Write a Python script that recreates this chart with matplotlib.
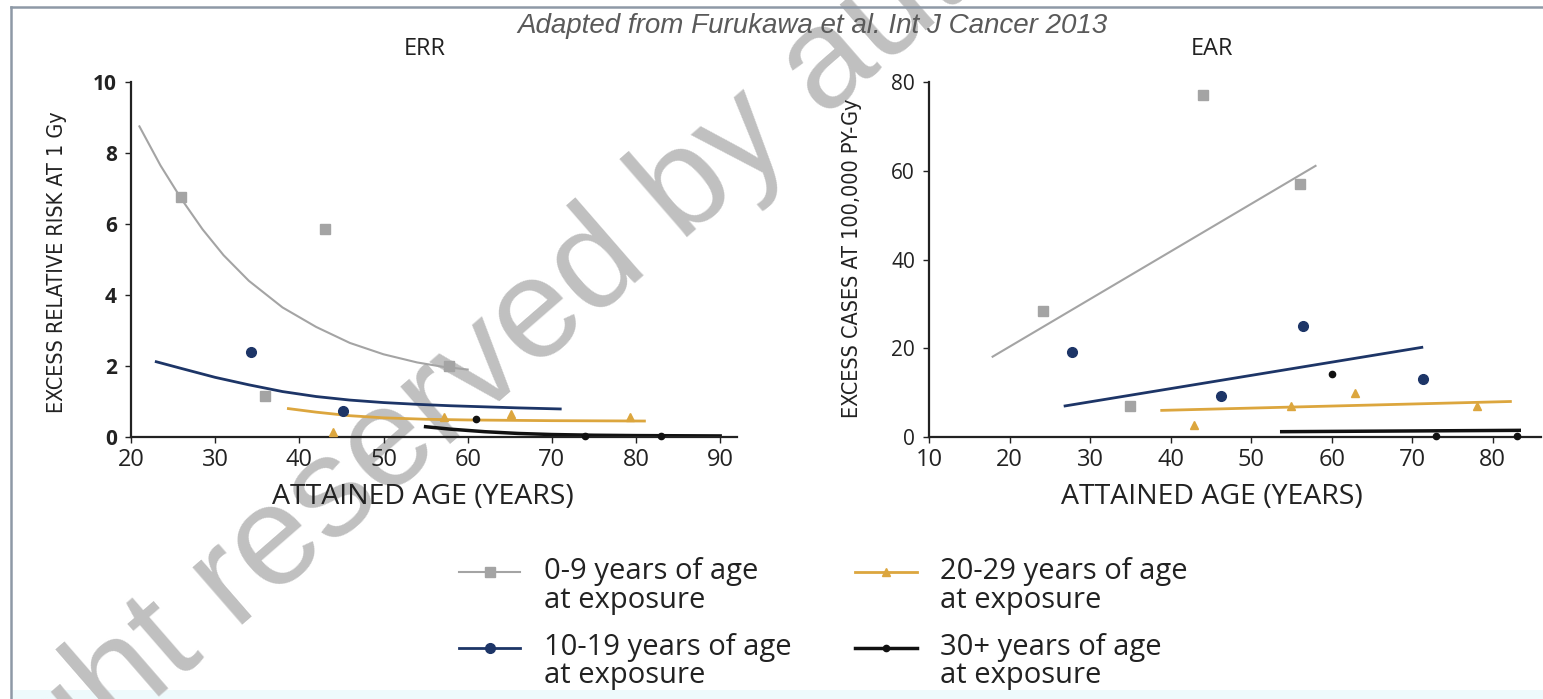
import matplotlib
matplotlib.use("Agg")
import matplotlib.pyplot as plt
from matplotlib.lines import Line2D
from matplotlib.patches import Rectangle
from matplotlib.legend_handler import HandlerLine2D

# ---- ERR panel (left) ----
err_gray_x = [26.0, 43.0, 35.9, 57.8]
err_gray_y = [6.77, 5.85, 1.15, 2.0]
err_gray_fit_x = [21, 23.5, 26, 28.5, 31, 34, 38, 42, 46, 50, 54, 57, 60]
err_gray_fit_y = [8.75, 7.65, 6.7, 5.85, 5.12, 4.4, 3.65, 3.1, 2.65, 2.33, 2.1, 1.98, 1.9]

err_blue_x = [34.2, 45.2]
err_blue_y = [2.4, 0.72]
err_blue_fit_x = [23, 26, 30, 34, 38, 42, 46, 50, 54, 58, 62, 66, 71]
err_blue_fit_y = [2.12, 1.93, 1.68, 1.47, 1.28, 1.14, 1.04, 0.97, 0.92, 0.88, 0.85, 0.82, 0.79]

err_orange_x = [44.0, 57.2, 65.2, 79.3]
err_orange_y = [0.15, 0.57, 0.65, 0.55]
err_orange_fit_x = [38.7, 42, 46, 50, 55, 60, 70, 81]
err_orange_fit_y = [0.80, 0.70, 0.60, 0.54, 0.50, 0.48, 0.46, 0.45]

err_black_x = [61.0, 74.0, 83.0]
err_black_y = [0.5, 0.03, 0.03]
err_black_fit_x = [55, 58, 62, 66, 70, 75, 80, 90]
err_black_fit_y = [0.29, 0.22, 0.15, 0.10, 0.07, 0.05, 0.04, 0.03]

# ---- EAR panel (right) ----
ear_gray_x = [44.0, 56.1, 24.1, 35.0]
ear_gray_y = [77.0, 57.1, 28.3, 7.0]
ear_gray_fit_x = [17.9, 58.0]
ear_gray_fit_y = [18.1, 61.1]

ear_blue_x = [27.7, 56.4, 46.3, 71.4]
ear_blue_y = [19.1, 25.1, 9.2, 13.1]
ear_blue_fit_x = [26.9, 71.2]
ear_blue_fit_y = [7.0, 20.2]

ear_orange_x = [42.9, 54.9, 62.9, 78.0]
ear_orange_y = [2.8, 7.0, 9.9, 7.0]
ear_orange_fit_x = [38.9, 82.2]
ear_orange_fit_y = [6.0, 8.0]

ear_black_x = [60.0, 73.0, 83.0]
ear_black_y = [14.2, 0.15, 0.15]
ear_black_fit_x = [53.8, 83.3]
ear_black_fit_y = [1.2, 1.5]

groups = ["0-9 years of age\nat exposure", "10-19 years of age\nat exposure",
          "20-29 years of age\nat exposure", "30+ years of age\nat exposure"]

GRAY, BLUE, ORANGE, BLACK = "#a4a4a4", "#1d3567", "#dca63e", "#111111"
styles = [
    dict(color=GRAY, marker="s", ms=6.5, lw=1.5),
    dict(color=BLUE, marker="o", ms=7, lw=2.0),
    dict(color=ORANGE, marker="^", ms=6, lw=2.0),
    dict(color=BLACK, marker="o", ms=4.5, lw=2.5),
]

W, H = 1543, 699
fig = plt.figure(figsize=(W / 100, H / 100), dpi=100)
fig.patch.set_facecolor("white")

SANS = ["Open Sans", "DejaVu Sans"]


def px_box(x0, x1, ytop, ybot):
    return [x0 / W, 1 - ybot / H, (x1 - x0) / W, (ybot - ytop) / H]


ax1 = fig.add_axes(px_box(131, 737, 82, 437))
ax2 = fig.add_axes(px_box(929, 1541, 82, 437))

panels = [
    (ax1, [(err_gray_x, err_gray_y, err_gray_fit_x, err_gray_fit_y),
           (err_blue_x, err_blue_y, err_blue_fit_x, err_blue_fit_y),
           (err_orange_x, err_orange_y, err_orange_fit_x, err_orange_fit_y),
           (err_black_x, err_black_y, err_black_fit_x, err_black_fit_y)]),
    (ax2, [(ear_gray_x, ear_gray_y, ear_gray_fit_x, ear_gray_fit_y),
           (ear_blue_x, ear_blue_y, ear_blue_fit_x, ear_blue_fit_y),
           (ear_orange_x, ear_orange_y, ear_orange_fit_x, ear_orange_fit_y),
           (ear_black_x, ear_black_y, ear_black_fit_x, ear_black_fit_y)]),
]

for ax, series in panels:
    ax.set_facecolor("none")
    for (px, py, fx, fy), st in zip(series, styles):
        ax.plot(fx, fy, color=st["color"], lw=st["lw"], zorder=2, clip_on=False)
        ax.plot(px, py, linestyle="none", marker=st["marker"], ms=st["ms"],
                color=st["color"], zorder=3, clip_on=False)
    for s in ["top", "right"]:
        ax.spines[s].set_visible(False)
    for s in ["left", "bottom"]:
        ax.spines[s].set_linewidth(1.6)
        ax.spines[s].set_color("#222222")
    ax.tick_params(direction="out", length=4, width=1, colors="#222222")

ax1.set_xlim(20, 92)
ax1.set_ylim(0, 10)
ax1.set_xticks(range(20, 91, 10))
ax1.set_yticks(range(0, 11, 2))
ax2.set_xlim(10, 86)
ax2.set_ylim(0, 80)
ax2.set_xticks(range(10, 81, 10))
ax2.set_yticks(range(0, 81, 20))

for ax, ybold in [(ax1, "bold"), (ax2, "normal")]:
    for lab in ax.get_xticklabels():
        lab.set_family(SANS)
        lab.set_fontsize(17)
        lab.set_color("#222222")
    for lab in ax.get_yticklabels():
        lab.set_family(SANS)
        lab.set_fontsize(15)
        lab.set_fontweight(ybold)
        lab.set_color("#222222")
    ax.tick_params(axis="y", pad=6)
    ax.tick_params(axis="x", pad=4)

# titles, axis labels
ax1.text((425 - 131) / 606, (437 - 49) / 355, "ERR", transform=ax1.transAxes,
         ha="center", va="center", fontsize=17, family=SANS, color="#222222")
ax2.text((1212 - 929) / 612, (437 - 49) / 355, "EAR", transform=ax2.transAxes,
         ha="center", va="center", fontsize=17, family=SANS, color="#222222")

ax1.text((423 - 131) / 606, (437 - 497) / 355, "ATTAINED AGE (YEARS)",
         transform=ax1.transAxes, ha="center", va="center", fontsize=20.5,
         family=SANS, color="#222222")
ax2.text((1212 - 929) / 612, (437 - 497) / 355, "ATTAINED AGE (YEARS)",
         transform=ax2.transAxes, ha="center", va="center", fontsize=20.5,
         family=SANS, color="#222222")

ax1.text((57 - 131) / 606, (437 - 262) / 355, "EXCESS RELATIVE RISK AT 1 Gy",
         transform=ax1.transAxes, ha="center", va="center", rotation=90,
         fontsize=15.5, family="DejaVu Sans", fontstretch="condensed",
         color="#222222")
ax2.text((852 - 929) / 612, (437 - 258) / 355, "EXCESS CASES AT 100,000 PY-Gy",
         transform=ax2.transAxes, ha="center", va="center", rotation=90,
         fontsize=15.5, family="DejaVu Sans", fontstretch="condensed",
         color="#222222")

# source note
fig.text(812 / W, 1 - 26 / H, "Adapted from Furukawa et al. Int J Cancer 2013",
         ha="center", va="center", fontsize=20, style="italic",
         family=["Liberation Sans", "DejaVu Sans"], color="#5a5a5a")


# legend: handle sits level with the first line of each two-line label
class FirstLineHandler(HandlerLine2D):
    def create_artists(self, legend, orig_handle, xdescent, ydescent,
                       width, height, fontsize, trans):
        return super().create_artists(legend, orig_handle, xdescent,
                                      ydescent - 21, width, height,
                                      fontsize, trans)


handles = [Line2D([], [], color=st["color"], lw=st["lw"], marker=st["marker"],
                  ms=st["ms"]) for st in styles]
leg = fig.legend(handles, groups, ncol=2, loc="upper left",
                 bbox_to_anchor=(459 / W, 1 - 557 / H), frameon=False,
                 borderpad=0, borderaxespad=0, handlelength=2.1,
                 handletextpad=0.8, columnspacing=2.2, labelspacing=0.6,
                 handler_map={Line2D: FirstLineHandler()},
                 prop={"family": SANS, "size": 21})
for t in leg.get_texts():
    t.set_color("#222222")
    t.set_linespacing(1.0)

# frame, bottom strip, watermark
fig.add_artist(Line2D([11 / W, 11 / W], [0, 1 - 7 / H], transform=fig.transFigure,
                      color="#8e99a6", lw=1.8))
fig.add_artist(Line2D([11 / W, 1], [1 - 7 / H, 1 - 7 / H], transform=fig.transFigure,
                      color="#8e99a6", lw=1.8))
fig.add_artist(Rectangle((12 / W, 0), 1, 9 / H, transform=fig.transFigure,
                         facecolor="#eefafc", edgecolor="none", zorder=-2))
fig.text(-252 / W, 1 - 1054 / H, "Copyright reserved by author", rotation=41,
         rotation_mode="anchor", ha="left", va="baseline", fontsize=102,
         family=["Liberation Sans", "DejaVu Sans"], color="#c0c0c0", zorder=-1)

fig.savefig("out.png", dpi=100)
